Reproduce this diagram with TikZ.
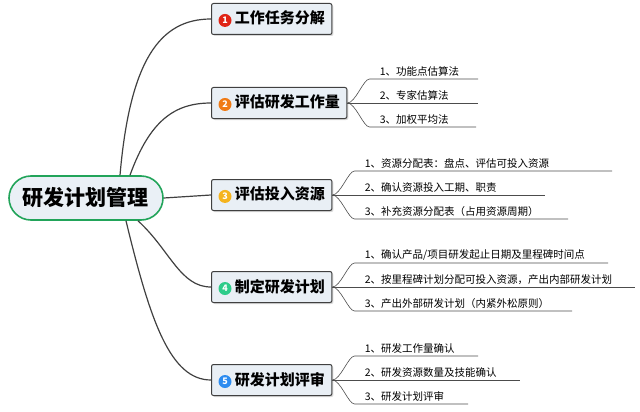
\documentclass[tikz,border=0pt]{standalone}
\usepackage{fontspec}
\setmainfont{Noto Sans CJK SC}
\usetikzlibrary{positioning,shadows}

\definecolor{boxfill}{HTML}{E9EFF5}
\definecolor{rootfill}{HTML}{EAF0F6}
\definecolor{rootline}{HTML}{22A45A}
\definecolor{numA}{HTML}{E02416}
\definecolor{numB}{HTML}{F07A14}
\definecolor{numC}{HTML}{F5B41E}
\definecolor{numD}{HTML}{2ECC8A}
\definecolor{numE}{HTML}{2D8CF0}

\begin{document}
\begin{tikzpicture}
	[x=1pt,y=-1pt,thick,
		root node/.style={draw=rootline,line width=1.6pt,fill=rootfill,rounded corners=22pt,minimum width=154pt,minimum height=44pt,font=\fontsize{21}{21}\bfseries},
		task node/.style={draw=black!75,line width=1pt,fill=boxfill,rounded corners=2pt,minimum height=31pt,inner xsep=7pt,anchor=west,font=\fontsize{15}{15}\bfseries,drop shadow={shadow xshift=1.5pt,shadow yshift=-1.5pt,opacity=0.3}},
		num/.style={circle,fill=#1,text=white,inner sep=0pt,minimum size=13pt,font=\fontsize{9}{9}\bfseries},
		branch/.style={draw=black!75,line width=1.2pt},
		leaf line/.style={draw=black!70,line width=0.6pt},
		leaf text/.style={anchor=south west,inner sep=2pt,font=\fontsize{10.5}{10.5}\selectfont}]

	\useasboundingbox (0,0) rectangle (640,412);

	\node[root node]  (root) at (86,198) {研发计划管理};

	\node[task node]  (T1) at (211,19)  {\tikz[baseline=-3.5pt]\node[num=numA]{1}; 工作任务分解};
	\node[task node]  (T2) at (211,103) {\tikz[baseline=-3.5pt]\node[num=numB]{2}; 评估研发工作量};
	\node[task node]  (T3) at (211,195) {\tikz[baseline=-3.5pt]\node[num=numC]{3}; 评估投入资源};
	\node[task node]  (T4) at (211,287) {\tikz[baseline=-3.5pt]\node[num=numD]{4}; 制定研发计划};
	\node[task node]  (T5) at (211,380) {\tikz[baseline=-3.5pt]\node[num=numE]{5}; 研发计划评审};

	% branches from the root
	\draw[branch] (root.north) ++(34,0) coordinate (r1) .. controls (130,60) and (160,19) .. (T1.west);
	\draw[branch] (root.north) ++(44,0) coordinate (r2) .. controls (150,120) and (175,103) .. (T2.west);
	\draw[branch] (root.east) -- (T3.west);
	\draw[branch] (root.south) ++(52,0) coordinate (r4) .. controls (170,250) and (180,287) .. (T4.west);
	\draw[branch] (root.south) ++(40,0) coordinate (r5) .. controls (150,320) and (170,380) .. (T5.west);

	% leaves: task / line end x / text
	\foreach \t/\ends/\labels in {
		T2/{478,478,476}/{1、功能点估算法,2、专家估算法,3、加权平均法},
		T3/{612,545,568}/{1、资源分配表：盘点、评估可投入资源,2、确认资源投入工期、职责,3、补充资源分配表（占用资源周期）},
		T4/{608,635,572}/{1、确认产品/项目研发起止日期及里程碑时间点,2、按里程碑计划分配可投入资源，产出内部研发计划,3、产出外部研发计划（内紧外松原则）},
		T5/{478,520,468}/{1、研发工作量确认,2、研发资源数量及技能确认,3、研发计划评审}}{
		\foreach \e [count=\i] in \ends {
			\coordinate (\t-s\i) at ([xshift=22pt,yshift={(2-\i)*24}]\t.east);
			\coordinate (\t-e\i) at (\e,0 |- \t-s\i);
		}
		\foreach \l [count=\i] in \labels {
			\node[leaf text] (\t-l\i) at ([xshift=8pt]\t-s\i) {\l};
		}
		\draw[leaf line] (\t.east) .. controls +(8,0) and +(-6,0) .. (\t-s1) -- (\t-e1);
		\draw[leaf line] (\t.east) -- (\t-e2);
		\draw[leaf line] (\t.east) .. controls +(8,0) and +(-6,0) .. (\t-s3) -- (\t-e3);
	}

\end{tikzpicture}
\end{document}
